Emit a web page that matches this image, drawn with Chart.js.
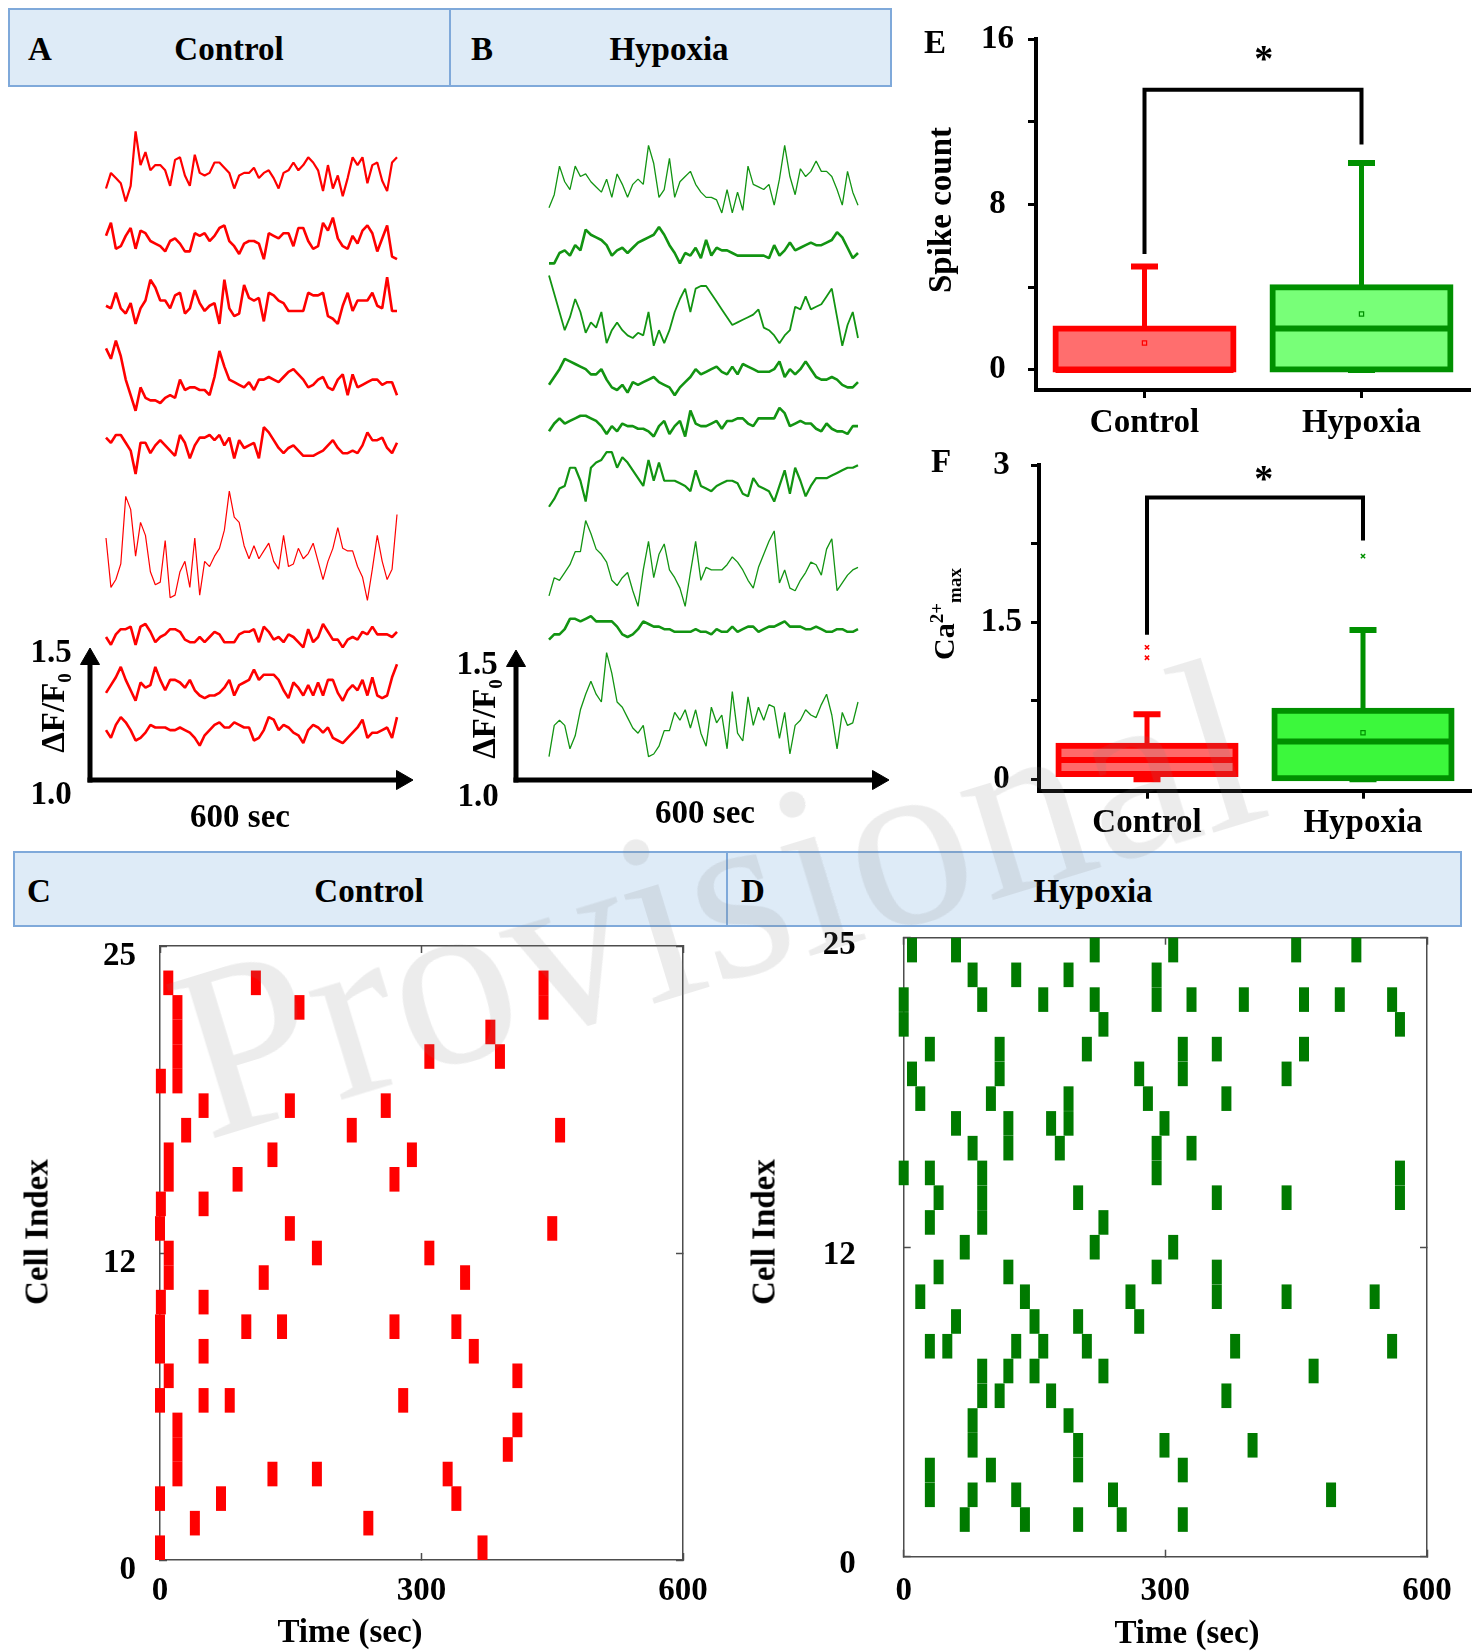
<!DOCTYPE html>
<html>
<head>
<meta charset="utf-8">
<title>Calcium activity: Control vs Hypoxia</title>
<script src="https://cdn.jsdelivr.net/npm/chart.js@4.4.1/dist/chart.umd.min.js"></script>
<style>
  body { margin: 0; background: #fff; }
  #page { position: relative; width: 1482px; height: 1652px; overflow: hidden;
          font-family: "Liberation Serif", "Times New Roman", serif; font-weight: bold; color: #000; }
  canvas { position: absolute; }
  .head { position: absolute; box-sizing: border-box; background: #deebf7; border: 2px solid #7fa9da; }
  .txt { position: absolute; font-size: 33px; line-height: 1; white-space: nowrap; transform: translate(-50%, -50%); }
  .up { transform: translate(-50%, -50%) rotate(-90deg); }
  .txt sub, .txt sup { font-size: 19px; line-height: 0; }
  .mark { position: absolute; left: 66px; top: 776px; width: 1300px; height: 245px; text-align: center;
          font-family: "Liberation Serif", serif; font-weight: normal; font-size: 245px; line-height: 245px;
          color: rgba(130, 130, 130, 0.15); transform: rotate(-17deg); white-space: nowrap; pointer-events: none; }
</style>
</head>
<body>
<div id="page">
  <div class="head" style="left:8px;top:8px;width:443px;height:79px"></div>
  <div class="head" style="left:449px;top:8px;width:443px;height:79px"></div>
  <div class="txt" style="left:40px;top:49px">A</div>
  <div class="txt" style="left:229px;top:49px">Control</div>
  <div class="txt" style="left:482px;top:49px">B</div>
  <div class="txt" style="left:669px;top:49px">Hypoxia</div>

  <div class="head" style="left:13px;top:851px;width:715px;height:76px"></div>
  <div class="head" style="left:726px;top:851px;width:736px;height:76px"></div>
  <div class="txt" style="left:39px;top:891px">C</div>
  <div class="txt" style="left:369px;top:891px">Control</div>
  <div class="txt" style="left:753px;top:891px">D</div>
  <div class="txt" style="left:1093px;top:891px">Hypoxia</div>

  <canvas id="tracesA" width="440" height="700" style="left:0px;top:100px"></canvas>
  <canvas id="tracesB" width="460" height="700" style="left:440px;top:100px"></canvas>
  <canvas id="spikeBox" width="582" height="440" style="left:900px;top:0px"></canvas>
  <canvas id="caBox" width="582" height="410" style="left:900px;top:440px"></canvas>
  <canvas id="rasterC" width="720" height="752" style="left:0px;top:900px"></canvas>
  <canvas id="rasterD" width="762" height="752" style="left:720px;top:900px"></canvas>

  <div class="txt" style="left:51px;top:651px">1.5</div>
  <div class="txt" style="left:51px;top:793px">1.0</div>
  <div class="txt up" style="left:53px;top:713px">ΔF/F<sub>0</sub></div>
  <div class="txt" style="left:240px;top:816px">600 sec</div>
  <div class="txt" style="left:477px;top:663px">1.5</div>
  <div class="txt" style="left:478px;top:795px">1.0</div>
  <div class="txt up" style="left:484px;top:719px">ΔF/F<sub>0</sub></div>
  <div class="txt" style="left:705px;top:812px">600 sec</div>

  <div class="txt" style="left:935px;top:42px">E</div>
  <div class="txt up" style="left:940px;top:210px">Spike count</div>
  <div class="txt" style="left:941px;top:461px">F</div>
  <div class="txt up" style="left:944px;top:614px;font-size:30px">Ca<sup>2+</sup><sub>max</sub></div>

  <div class="txt up" style="left:37px;top:1232px">Cell Index</div>
  <div class="txt" style="left:350px;top:1631px">Time (sec)</div>
  <div class="txt up" style="left:764px;top:1232px">Cell Index</div>
  <div class="txt" style="left:1187px;top:1632px">Time (sec)</div>

  <div class="mark">Provisional</div>
</div>

<script>
// ---- data ----------------------------------------------------------------
// traces: dF/F0 above each trace's own baseline, one sample every 10 s
const sampleTimes = Array.from({ length: 60 }, (_, i) => i * 10);

const controlTrace1 = [0.07,0.13,0.11,0.09,0.02,0.08,0.29,0.16,0.21,0.14, 0.16,0.16,0.14,0.08,0.18,0.19,0.12,0.08,0.20,0.13,
  0.12,0.13,0.17,0.17,0.15,0.13,0.07,0.12,0.13,0.13, 0.15,0.11,0.13,0.14,0.11,0.07,0.13,0.14,0.17,0.14,
  0.16,0.19,0.17,0.14,0.06,0.16,0.07,0.12,0.04,0.11, 0.19,0.16,0.19,0.09,0.16,0.17,0.10,0.06,0.17,0.19];
const controlTrace2 = [0.10,0.15,0.05,0.06,0.10,0.13,0.05,0.12,0.11,0.08, 0.07,0.06,0.04,0.08,0.09,0.07,0.04,0.04,0.11,0.10,
  0.11,0.08,0.10,0.13,0.14,0.08,0.06,0.03,0.07,0.08, 0.08,0.07,0.01,0.11,0.10,0.09,0.11,0.11,0.06,0.13,
  0.13,0.08,0.05,0.06,0.15,0.12,0.17,0.09,0.06,0.05, 0.10,0.07,0.12,0.14,0.11,0.04,0.09,0.14,0.02,0.01];
const controlTrace3 = [0.08,0.07,0.13,0.07,0.05,0.09,0.01,0.07,0.10,0.18, 0.15,0.10,0.10,0.07,0.12,0.13,0.05,0.07,0.14,0.09,
  0.06,0.08,0.09,0.01,0.18,0.07,0.04,0.05,0.16,0.11, 0.10,0.11,0.02,0.13,0.12,0.10,0.09,0.06,0.06,0.06,
  0.06,0.13,0.12,0.12,0.13,0.04,0.03,0.01,0.08,0.13, 0.06,0.10,0.10,0.10,0.13,0.08,0.07,0.19,0.06,0.06];
const controlTrace4 = [0.25,0.21,0.28,0.22,0.13,0.07,0.01,0.10,0.06,0.05, 0.05,0.04,0.06,0.07,0.06,0.13,0.09,0.10,0.10,0.09,
  0.09,0.07,0.14,0.24,0.18,0.13,0.12,0.11,0.10,0.12, 0.09,0.13,0.13,0.14,0.13,0.12,0.14,0.16,0.17,0.15,
  0.13,0.10,0.11,0.13,0.14,0.10,0.09,0.13,0.15,0.07, 0.15,0.10,0.11,0.12,0.13,0.13,0.11,0.12,0.12,0.07];
const controlTrace5 = [0.15,0.13,0.16,0.16,0.13,0.10,0.01,0.13,0.13,0.09, 0.12,0.14,0.12,0.10,0.08,0.16,0.13,0.07,0.12,0.15,
  0.15,0.16,0.14,0.16,0.12,0.15,0.07,0.14,0.11,0.12, 0.13,0.07,0.19,0.17,0.14,0.11,0.09,0.11,0.12,0.10,
  0.08,0.08,0.08,0.09,0.10,0.12,0.14,0.11,0.09,0.09, 0.10,0.09,0.12,0.17,0.14,0.14,0.15,0.11,0.09,0.13];
const controlTrace6 = [0.29,0.10,0.13,0.19,0.45,0.40,0.22,0.35,0.30,0.16, 0.11,0.12,0.28,0.06,0.07,0.16,0.20,0.10,0.29,0.07,
  0.20,0.18,0.22,0.25,0.32,0.47,0.37,0.35,0.26,0.21, 0.26,0.21,0.24,0.27,0.20,0.17,0.30,0.18,0.19,0.25,
  0.21,0.23,0.27,0.20,0.13,0.20,0.25,0.33,0.25,0.24, 0.24,0.18,0.14,0.05,0.17,0.30,0.20,0.13,0.17,0.38];
const controlTrace7 = [0.05,0.02,0.06,0.08,0.08,0.09,0.02,0.09,0.10,0.07, 0.03,0.05,0.06,0.08,0.08,0.07,0.04,0.03,0.03,0.05,
  0.03,0.05,0.07,0.06,0.03,0.03,0.03,0.06,0.07,0.07, 0.08,0.03,0.09,0.07,0.04,0.05,0.03,0.06,0.05,0.03,
  0.01,0.08,0.03,0.05,0.10,0.07,0.04,0.04,0.01,0.04, 0.05,0.04,0.07,0.06,0.09,0.06,0.06,0.06,0.05,0.07];
const controlTrace8 = [0.04,0.07,0.10,0.14,0.09,0.05,0.01,0.08,0.06,0.07, 0.14,0.09,0.05,0.09,0.09,0.08,0.06,0.09,0.05,0.03,
  0.02,0.03,0.03,0.04,0.06,0.09,0.03,0.07,0.08,0.09, 0.13,0.09,0.11,0.11,0.11,0.09,0.05,0.02,0.08,0.06,
  0.03,0.07,0.03,0.08,0.03,0.09,0.09,0.04,0.01,0.05, 0.07,0.05,0.09,0.03,0.10,0.03,0.02,0.03,0.10,0.15];
const controlTrace9 = [0.07,0.04,0.09,0.12,0.10,0.07,0.03,0.04,0.06,0.09, 0.08,0.08,0.08,0.07,0.07,0.08,0.07,0.06,0.04,0.01,
  0.05,0.07,0.09,0.10,0.08,0.08,0.10,0.09,0.08,0.08, 0.03,0.04,0.07,0.12,0.11,0.07,0.09,0.08,0.06,0.05,
  0.02,0.07,0.09,0.08,0.06,0.08,0.04,0.03,0.02,0.04, 0.06,0.08,0.11,0.04,0.06,0.06,0.07,0.08,0.04,0.12];

const hypoxiaTrace1 = [0.03,0.08,0.19,0.13,0.10,0.19,0.15,0.16,0.13,0.11, 0.09,0.14,0.07,0.16,0.12,0.07,0.12,0.14,0.12,0.27,
  0.20,0.07,0.10,0.22,0.07,0.13,0.15,0.17,0.12,0.09, 0.07,0.07,0.06,0.01,0.10,0.01,0.09,0.02,0.19,0.12,
  0.11,0.10,0.12,0.04,0.14,0.27,0.15,0.08,0.18,0.15, 0.17,0.21,0.17,0.17,0.15,0.10,0.04,0.17,0.09,0.04];
const hypoxiaTrace2 = [0.01,0.01,0.05,0.06,0.04,0.08,0.06,0.14,0.12,0.11, 0.10,0.08,0.04,0.06,0.07,0.05,0.07,0.09,0.10,0.11,
  0.12,0.15,0.12,0.08,0.05,0.01,0.05,0.04,0.07,0.03, 0.10,0.04,0.07,0.06,0.06,0.05,0.04,0.04,0.04,0.04,
  0.04,0.04,0.03,0.08,0.04,0.06,0.09,0.06,0.07,0.08, 0.09,0.08,0.08,0.09,0.10,0.13,0.11,0.07,0.03,0.05];
const hypoxiaTrace3 = [0.28,0.21,0.14,0.07,0.12,0.19,0.14,0.06,0.10,0.08, 0.14,0.02,0.07,0.10,0.07,0.05,0.04,0.06,0.05,0.14,
  0.01,0.07,0.02,0.07,0.14,0.19,0.23,0.14,0.23,0.24, 0.24,0.21,0.18,0.15,0.12,0.09,0.10,0.11,0.12,0.13,
  0.15,0.08,0.07,0.05,0.02,0.05,0.07,0.16,0.15,0.20, 0.15,0.16,0.17,0.20,0.23,0.12,0.01,0.09,0.14,0.04];
const hypoxiaTrace4 = [0.04,0.07,0.10,0.14,0.13,0.12,0.11,0.10,0.08,0.08, 0.10,0.06,0.03,0.02,0.04,0.01,0.05,0.04,0.05,0.06,
  0.07,0.05,0.04,0.03,0.00,0.03,0.05,0.07,0.10,0.08, 0.09,0.10,0.11,0.09,0.08,0.11,0.08,0.12,0.11,0.10,
  0.09,0.09,0.09,0.10,0.13,0.07,0.10,0.08,0.10,0.13, 0.10,0.07,0.06,0.06,0.07,0.06,0.04,0.03,0.03,0.05];
const hypoxiaTrace5 = [0.02,0.05,0.07,0.05,0.06,0.07,0.08,0.08,0.07,0.06, 0.04,0.01,0.04,0.02,0.05,0.04,0.04,0.03,0.03,0.02,
  0.00,0.04,0.06,0.01,0.04,0.06,0.00,0.10,0.05,0.04, 0.04,0.05,0.06,0.03,0.06,0.06,0.07,0.07,0.05,0.04,
  0.07,0.07,0.07,0.07,0.11,0.09,0.04,0.05,0.06,0.05, 0.05,0.03,0.02,0.05,0.03,0.02,0.02,0.01,0.04,0.04];
const hypoxiaTrace6 = [0.00,0.03,0.07,0.08,0.15,0.15,0.10,0.02,0.15,0.17, 0.18,0.21,0.21,0.15,0.19,0.17,0.14,0.11,0.08,0.18,
  0.10,0.17,0.10,0.10,0.10,0.09,0.08,0.06,0.14,0.08, 0.07,0.06,0.08,0.09,0.10,0.10,0.09,0.05,0.04,0.11,
  0.08,0.07,0.06,0.02,0.08,0.14,0.05,0.15,0.10,0.04, 0.08,0.11,0.11,0.11,0.12,0.13,0.14,0.15,0.15,0.16];
const hypoxiaTrace7 = [0.04,0.11,0.10,0.13,0.16,0.21,0.21,0.33,0.28,0.22, 0.20,0.17,0.10,0.08,0.11,0.13,0.06,0.00,0.14,0.25,
  0.11,0.20,0.24,0.14,0.11,0.07,0.00,0.13,0.25,0.10, 0.15,0.14,0.14,0.14,0.16,0.19,0.17,0.14,0.10,0.07,
  0.15,0.20,0.25,0.29,0.09,0.14,0.07,0.06,0.10,0.13, 0.17,0.16,0.12,0.22,0.26,0.06,0.09,0.12,0.14,0.15];
const hypoxiaTrace8 = [0.01,0.03,0.03,0.05,0.09,0.09,0.08,0.09,0.10,0.08, 0.08,0.08,0.08,0.06,0.03,0.02,0.03,0.05,0.08,0.07,
  0.06,0.06,0.05,0.05,0.04,0.04,0.04,0.04,0.05,0.04, 0.04,0.03,0.05,0.04,0.04,0.06,0.04,0.05,0.06,0.06,
  0.04,0.05,0.06,0.06,0.07,0.08,0.06,0.06,0.06,0.05, 0.05,0.06,0.05,0.04,0.04,0.05,0.05,0.04,0.04,0.05];
const hypoxiaTrace9 = [0.01,0.13,0.15,0.13,0.04,0.09,0.19,0.25,0.30,0.25, 0.22,0.41,0.33,0.22,0.20,0.16,0.12,0.10,0.13,0.01,
  0.02,0.05,0.11,0.11,0.18,0.15,0.19,0.12,0.19,0.10, 0.05,0.20,0.14,0.17,0.04,0.26,0.10,0.07,0.24,0.13,
  0.20,0.15,0.21,0.20,0.08,0.18,0.02,0.13,0.15,0.19, 0.17,0.16,0.21,0.25,0.17,0.04,0.18,0.13,0.14,0.22];

// box plots (E: spike count, F: Ca2+ max)
const groups = ['Control', 'Hypoxia'];
const spikeMin = [0, 0];
const spikeQ1 = [0, 0];
const spikeMedian = [0, 2];
const spikeQ3 = [2, 4];
const spikeMax = [5, 10];
const spikeMean = [1.3, 2.7];
const spikeBracket = [5.6, 13.55, 10.9];
const spikeTicks = [0, 4, 8, 12, 16];
const spikeTickLabels = [0, 8, 16];

const caMin = [0, 0];
const caQ1 = [0.05, 0.01];
const caMedian = [0.185, 0.36];
const caQ3 = [0.32, 0.655];
const caMax = [0.62, 1.425];
const caMean = [null, 0.445];
const caOutliers = [[1.16, 1.26], [2.13]];
const caBracket = [1.38, 2.69, 2.28];
const caTicks = [0, 0.75, 1.5, 2.25, 3];
const caTickLabels = [0, 1.5, 3];

// raster plots: spike times (s) per cell, cell 0 first
const controlSpikeTimes = [
  [0, 370], [40, 239], [0, 70, 340], [20, 129, 180, 330], [20, 399], [20, 410],
  [0, 50, 80, 279], [10, 410], [0, 50, 360], [0, 99, 140, 269, 340], [1, 50], [10, 119, 350],
  [10, 180, 309], [0, 149, 450], [1, 50], [10, 89, 269], [10, 129, 289], [30, 220, 459],
  [50, 149, 259], [1, 20], [20, 309, 390], [20, 379], [20, 160, 440], [9.5, 110, 440]
];
const hypoxiaSpikeTimes = [
  [], [70, 139, 200, 250, 320], [30, 79, 129, 240, 490], [30, 100, 200, 320], [79, 200, 299, 400],
  [79, 189], [90, 110, 169, 370], [90, 120, 150, 229, 470], [30, 50, 129, 160, 210, 380, 560],
  [60, 150, 200, 270], [19, 139, 260, 359, 439, 540], [40, 120, 290, 359], [70, 219, 309],
  [30, 90, 229], [40, 90, 200, 359, 439, 569], [0, 30, 90, 290, 569], [79, 120, 179, 290, 330],
  [60, 120, 169, 189, 299], [19, 100, 189, 280, 370], [9.5, 110, 270, 320, 439],
  [30, 110, 210, 320, 359, 459], [0, 229, 569], [0, 90, 160, 219, 290, 330, 390, 459, 500, 560],
  [79, 129, 189, 290], [9.5, 60, 219, 309, 450, 519]
];
const timeTicks = [0, 300, 600];
const cellTicks = [0, 12.5, 25];
const cellTickLabels = ['0', '12', '25'];

// ---- layout ---------------------------------------------------------------
const controlOffsets = [3.205, 2.993, 2.744, 2.410, 2.167, 1.641, 1.500, 1.295, 1.122];
const hypoxiaOffsets = [3.171, 2.977, 2.660, 2.480, 2.321, 2.051, 1.668, 1.530, 1.080];
const controlWidths = [2.2, 2.6, 2.6, 2.6, 2.6, 1.2, 2.6, 2.6, 2.6];
const hypoxiaWidths = [1.3, 2.6, 1.8, 2.6, 2.6, 2.2, 1.3, 2.6, 1.3];

Chart.defaults.font.family = '"Liberation Serif", "Times New Roman", serif';
Chart.defaults.font.weight = 'bold';
Chart.defaults.font.size = 33;
Chart.defaults.color = '#000';

const common = {
  responsive: false,
  animation: false,
  events: [],
  plugins: { legend: { display: false }, tooltip: { enabled: false } }
};

// value range that puts v0 at pixel p0 and v1 at pixel p1 on a side of the given size
function spanFor(p0, v0, p1, v1, size) {
  const perPx = (v1 - v0) / (p1 - p0);
  const min = v0 - p0 * perPx;
  return { min: min, max: min + size * perPx };
}

// fixed axis size, and no extra room reserved for labels hanging past the ends
function fixSize(prop, size) {
  return sc => {
    sc[prop] = size;
    sc.paddingTop = sc.paddingBottom = sc.paddingLeft = sc.paddingRight = 0;
  };
}

// Traces with scale-bar arrows
function traceChart(id, traces, offsets, widths, color, geo) {
  const xr = spanFor(geo.x0, sampleTimes[0], geo.x1, sampleTimes[sampleTimes.length - 1], geo.w);
  const yr = spanFor(geo.h - geo.y10, 1.0, geo.h - geo.y15, 1.5, geo.h);
  const xAt = px => xr.min + px * (xr.max - xr.min) / geo.w;
  const yAt = py => yr.min + (geo.h - py) * (yr.max - yr.min) / geo.h;

  const sets = traces.map((tr, k) => ({
    data: tr.map((v, i) => ({ x: sampleTimes[i], y: offsets[k] + v })),
    borderColor: color,
    borderWidth: widths[k],
    borderJoinStyle: 'bevel',
    pointRadius: 0
  }));
  const arrow = {
    borderColor: '#000', borderWidth: 5, pointStyle: 'triangle',
    pointBackgroundColor: '#000', pointBorderColor: '#000', pointBorderWidth: 1, pointRadius: [0, 11]
  };
  sets.push(Object.assign({}, arrow, {
    data: [{ x: xAt(geo.ax), y: yAt(geo.y10 + 2.5) }, { x: xAt(geo.ax), y: yAt(geo.tipY + 11) }],
    pointRotation: 0
  }));
  sets.push(Object.assign({}, arrow, {
    data: [{ x: xAt(geo.ax - 2.5), y: 1.0 }, { x: xAt(geo.tipX - 11), y: 1.0 }],
    pointRotation: 90
  }));

  new Chart(document.getElementById(id), {
    type: 'line',
    data: { datasets: sets },
    options: Object.assign({}, common, {
      layout: { autoPadding: false, padding: 0 },
      scales: {
        x: { type: 'linear', display: false, min: xr.min, max: xr.max },
        y: { type: 'linear', display: false, min: yr.min, max: yr.max }
      }
    })
  });
}

traceChart('tracesA',
  [controlTrace1, controlTrace2, controlTrace3, controlTrace4, controlTrace5, controlTrace6, controlTrace7, controlTrace8, controlTrace9],
  controlOffsets, controlWidths, '#ff0000',
  { w: 440, h: 700, x0: 106, x1: 397, y10: 680, y15: 550, ax: 90, tipX: 413, tipY: 548 });

traceChart('tracesB',
  [hypoxiaTrace1, hypoxiaTrace2, hypoxiaTrace3, hypoxiaTrace4, hypoxiaTrace5, hypoxiaTrace6, hypoxiaTrace7, hypoxiaTrace8, hypoxiaTrace9],
  hypoxiaOffsets, hypoxiaWidths, '#129412',
  { w: 460, h: 700, x0: 109, x1: 418, y10: 680, y15: 550, ax: 76, tipX: 449, tipY: 550 });

// asterisk above the significance bracket
const starPlugin = {
  id: 'star',
  afterDatasetsDraw(chart, args, opts) {
    const { ctx, scales } = chart;
    ctx.save();
    ctx.font = 'bold 38px "Liberation Serif", serif';
    ctx.fillStyle = '#000';
    ctx.textAlign = 'center';
    ctx.textBaseline = 'middle';
    ctx.fillText('*', scales.x.getPixelForValue(opts.x), scales.y.getPixelForValue(opts.y) + 5);
    ctx.restore();
  }
};

function pointSet(values, style, radius, width, colors, order) {
  return {
    type: 'line', data: values, showLine: false,
    pointStyle: style, pointRadius: radius, pointBorderWidth: width,
    pointBorderColor: colors, pointBackgroundColor: 'rgba(0,0,0,0)', order: order
  };
}

function boxChart(id, s, geo) {
  const stem = { type: 'bar', backgroundColor: s.line, barThickness: 5, grouped: false, inflateAmount: 0, order: 6 };
  const sets = [
    Object.assign({}, stem, { data: groups.map((g, i) => [s.q3[i], s.max[i]]) }),
    Object.assign({}, stem, { data: groups.map((g, i) => [s.min[i], s.q1[i]]) }),
    {
      type: 'bar', data: groups.map((g, i) => [s.q1[i], s.q3[i]]),
      backgroundColor: s.fill, borderColor: s.line, borderWidth: 6, borderSkipped: false,
      inflateAmount: 3, barPercentage: 0.82, categoryPercentage: 1, grouped: false, order: 5
    },
    pointSet(s.max, 'line', 13.5, 6, s.line, 4),
    pointSet(s.min, 'line', 13.5, 6, s.line, 4),
    pointSet(s.median, 'line', 89, 6, s.line, 3),
    pointSet(s.mean, 'rect', 3, 1.2, s.line, 2)
  ];
  if (s.outliers) {
    const pts = [], cols = [];
    s.outliers.forEach((list, i) => list.forEach(v => { pts.push({ x: groups[i], y: v }); cols.push(s.line[i]); }));
    sets.push({ type: 'line', data: pts, showLine: false, pointStyle: 'crossRot', pointRadius: 3,
      pointBorderWidth: 1.5, pointBorderColor: cols, order: 2 });
  }
  sets.push({
    type: 'line',
    data: [{ x: groups[0], y: s.bracket[0] }, { x: groups[0], y: s.bracket[1] },
           { x: groups[1], y: s.bracket[1] }, { x: groups[1], y: s.bracket[2] }],
    borderColor: '#000', borderWidth: 4, pointRadius: 0, borderJoinStyle: 'miter', order: 1
  });

  const axisGrid = { display: true, drawOnChartArea: false, drawTicks: true, tickLength: 8, tickColor: '#000', tickWidth: 3 };
  const axisBorder = { display: true, color: '#000', width: 4 };

  new Chart(document.getElementById(id), {
    type: 'bar',
    data: { labels: groups, datasets: sets },
    options: Object.assign({}, common, {
      layout: { autoPadding: false, padding: { top: geo.top, right: geo.right, left: 0, bottom: 0 } },
      plugins: Object.assign({}, common.plugins, { star: s.star }),
      scales: {
        x: {
          type: 'category', offset: true,
          grid: Object.assign({}, axisGrid, { offset: false }), border: axisBorder,
          ticks: { padding: geo.xPad },
          afterFit: fixSize('height', geo.bottom)
        },
        y: {
          type: 'linear', min: s.yMin, max: s.ticks[s.ticks.length - 1],
          afterBuildTicks: sc => { sc.ticks = s.ticks.map(v => ({ value: v })); },
          grid: axisGrid, border: axisBorder,
          ticks: { crossAlign: 'center', padding: geo.yPad, callback: v => (s.tickLabels.includes(v) ? String(v) : '') },
          afterFit: fixSize('width', geo.left)
        }
      }
    }),
    plugins: [starPlugin]
  });
}

boxChart('spikeBox', {
  min: spikeMin, q1: spikeQ1, median: spikeMedian, q3: spikeQ3, max: spikeMax, mean: spikeMean,
  bracket: spikeBracket, ticks: spikeTicks, tickLabels: spikeTickLabels, yMin: -0.97,
  fill: ['#ff6e6e', '#78ff78'], line: ['#ff0000', '#009000'], star: { x: 0.55, y: 15.16 }
}, { left: 136, top: 39, right: 12, bottom: 50, xPad: 6, yPad: 14 });

boxChart('caBox', {
  min: caMin, q1: caQ1, median: caMedian, q3: caQ3, max: caMax, mean: caMean, outliers: caOutliers,
  bracket: caBracket, ticks: caTicks, tickLabels: caTickLabels, yMin: -0.109,
  fill: ['#ff6a6a', '#3cf83c'], line: ['#ff0000', '#009000'], star: { x: 0.54, y: 2.89 }
}, { left: 139, top: 25, right: 11, bottom: 59.3, xPad: 5, yPad: 9 });

// Raster plots
function rasterPoints(cells) {
  const pts = [];
  cells.forEach((times, cell) => times.forEach(t => pts.push({ x: t, y: cell + 0.5 })));
  return pts;
}

function rasterChart(id, cells, color, geo) {
  const frame = { display: true, color: '#4d4d4d', width: 1.5 };
  const inward = { display: true, drawOnChartArea: false, drawTicks: true, tickLength: -7, tickColor: '#4d4d4d', tickWidth: 1.5 };
  const setTime = sc => { sc.ticks = timeTicks.map(v => ({ value: v })); };
  const setCell = sc => { sc.ticks = cellTicks.map(v => ({ value: v })); };

  new Chart(document.getElementById(id), {
    type: 'scatter',
    data: {
      datasets: [{
        data: rasterPoints(cells),
        pointStyle: 'line', pointRotation: 90, pointRadius: 12.3, pointBorderWidth: 10,
        pointBorderColor: color, clip: false
      }]
    },
    options: Object.assign({}, common, {
      layout: { autoPadding: false, padding: { top: geo.top, right: geo.right, left: 0, bottom: 0 } },
      scales: {
        x: {
          type: 'linear', min: 0, max: 600, afterBuildTicks: setTime, grid: inward, border: frame,
          ticks: { padding: geo.xPad }, afterFit: fixSize('height', geo.bottom)
        },
        y: {
          type: 'linear', min: 0, max: 25, afterBuildTicks: setCell, grid: inward, border: frame,
          ticks: { padding: geo.yPad, labelOffset: geo.labelOffset, callback: v => cellTickLabels[cellTicks.indexOf(v)] },
          afterFit: fixSize('width', geo.left)
        },
        x2: {
          type: 'linear', position: 'top', min: 0, max: 600, afterBuildTicks: setTime, grid: inward, border: frame,
          ticks: { display: false }, afterFit: fixSize('height', 0)
        },
        y2: {
          type: 'linear', position: 'right', min: 0, max: 25, afterBuildTicks: setCell, grid: inward, border: frame,
          ticks: { display: false }, afterFit: fixSize('width', 0)
        }
      }
    })
  });
}

rasterChart('rasterC', controlSpikeTimes, '#ff0000',
  { left: 160, top: 46, right: 37, bottom: 92, xPad: 19, yPad: 31, labelOffset: 10 });
rasterChart('rasterD', hypoxiaSpikeTimes, '#007a00',
  { left: 183.7, top: 37.7, right: 55, bottom: 95.3, xPad: 22, yPad: 55, labelOffset: 8 });
</script>
</body>
</html>
